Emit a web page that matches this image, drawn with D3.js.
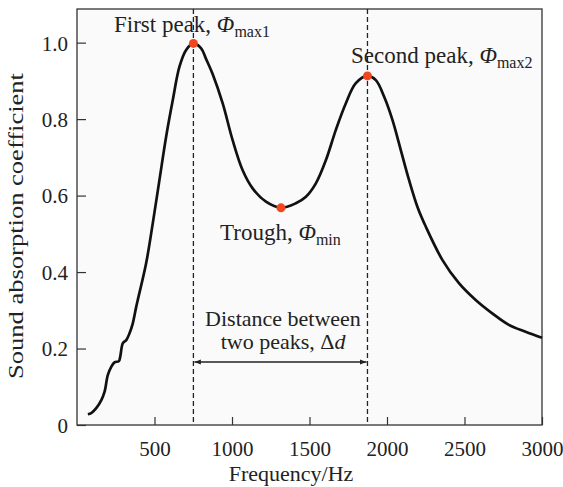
<!DOCTYPE html>
<html lang="en">
<head>
<meta charset="UTF-8">
<title>Sound absorption</title>
<script src="https://d3js.org/d3.v7.min.js"></script>
<style>
  body { margin: 0; background: #fff; }
  svg text { font-family: "Liberation Serif", "Times New Roman", serif; fill: #222; }
  .curve { fill: none; stroke: #111; stroke-width: 2.7px; }
  .guide { stroke: #222; stroke-width: 1.3px; stroke-dasharray: 5,3; }
</style>
</head>
<body>
<svg id="canvas" width="563" height="487"></svg>
<script>
// curve
var frequency = [70, 92, 124, 157, 178, 199, 221, 242, 270, 279, 296, 318, 339, 360, 382, 392,
  446, 489, 532, 575, 618, 661, 704, 751, 801, 833, 875, 940, 1004, 1068, 1133, 1219, 1316,
  1412, 1477, 1541, 1606, 1670, 1734, 1799, 1874, 1928, 1981, 2035, 2089, 2142, 2196, 2250,
  2357, 2464, 2572, 2679, 2786, 2894, 3000];
var absorption = [0.028, 0.031, 0.044, 0.065, 0.087, 0.131, 0.152, 0.164, 0.167, 0.179, 0.214,
  0.222, 0.240, 0.266, 0.309, 0.327, 0.423, 0.528, 0.641, 0.754, 0.850, 0.937, 0.981, 0.998,
  0.985, 0.957, 0.918, 0.841, 0.745, 0.667, 0.619, 0.584, 0.568, 0.580, 0.597, 0.632, 0.693,
  0.772, 0.841, 0.894, 0.913, 0.902, 0.859, 0.798, 0.719, 0.641, 0.571, 0.519, 0.432, 0.371,
  0.327, 0.292, 0.262, 0.244, 0.228];

var keyFreq = [751, 1316, 1874];
var keyValue = [0.998, 0.568, 0.913];

var xTicks = [500, 1000, 1500, 2000, 2500, 3000];
var yTicks = [0, 0.2, 0.4, 0.6, 0.8, 1.0];

var svg = d3.select('svg');
var plotL = 77, plotR = 542, plotT = 9, plotB = 425;

var x = d3.scaleLinear().domain([0, 3000]).range([plotL, plotR]);
var y = d3.scaleLinear().domain([0, 1.088]).range([plotB, plotT]);

svg.append("rect")
    .attr("x", plotL).attr("y", plotT)
    .attr("width", plotR - plotL).attr("height", plotB - plotT)
    .attr("fill", "#fafafa");

// axes, ticks pointing inward
var xAxis = svg.append("g")
    .attr("transform", "translate(0," + plotB + ")")
    .call(d3.axisTop(x).tickValues(xTicks).tickSize(8));
xAxis.selectAll("text").remove();
xAxis.selectAll(".tick").append("text")
    .attr("y", 31).attr("text-anchor", "middle")
    .style("font-size", "21px")
    .text(function(d){ return d; });

var yAxis = svg.append("g")
    .attr("transform", "translate(" + plotL + ",0)")
    .call(d3.axisRight(y).tickValues(yTicks).tickSize(9));
yAxis.selectAll("text").remove();
yAxis.selectAll(".tick").append("text")
    .attr("x", -9).attr("dy", "0.35em").attr("text-anchor", "end")
    .style("font-size", "21px")
    .text(function(d){ return d === 0 ? "0" : d3.format(".1f")(d); });

svg.selectAll(".domain").remove();
svg.selectAll(".tick line").attr("stroke", "#333").attr("stroke-width", 1.2);

svg.append("rect")
    .attr("x", plotL).attr("y", plotT)
    .attr("width", plotR - plotL).attr("height", plotB - plotT)
    .attr("fill", "none").attr("stroke", "#333").attr("stroke-width", 1.3);

// dashed guides at the two peaks
svg.selectAll(".guide")
    .data([keyFreq[0], keyFreq[2]])
    .enter().append("line")
    .attr("class", "guide")
    .attr("x1", function(d){ return x(d); }).attr("x2", function(d){ return x(d); })
    .attr("y1", plotT).attr("y2", plotB);

var line = d3.line()
    .x(function(d, i){ return x(frequency[i]); })
    .y(function(d){ return y(d); })
    .curve(d3.curveCatmullRom.alpha(0.5));

svg.append("path")
    .attr("class", "curve")
    .attr("d", line(absorption));

svg.selectAll(".key")
    .data(keyFreq)
    .enter().append("circle")
    .attr("class", "key")
    .attr("cx", function(d){ return x(d); })
    .attr("cy", function(d, i){ return y(keyValue[i]); })
    .attr("r", 4.5)
    .attr("fill", "#f2461f");

// arrow between peaks
var defs = svg.append("defs");
defs.append("marker").attr("id", "head")
    .attr("viewBox", "0 0 10 10").attr("refX", 10).attr("refY", 5)
    .attr("markerWidth", 7).attr("markerHeight", 5).attr("orient", "auto-start-reverse")
  .append("path").attr("d", "M0,1 L10,5 L0,9 Z").attr("fill", "#222");

svg.append("line")
    .attr("x1", x(keyFreq[0]) + 1).attr("x2", x(keyFreq[2]) - 1)
    .attr("y1", 362).attr("y2", 362)
    .attr("stroke", "#222").attr("stroke-width", 1.3)
    .attr("marker-start", "url(#head)").attr("marker-end", "url(#head)");

function label(px, py, anchor, main, sym, sub) {
    var t = svg.append("text")
        .attr("x", px).attr("y", py)
        .attr("text-anchor", anchor)
        .style("font-size", "23px");
    t.append("tspan").text(main);
    t.append("tspan").style("font-style", "italic").text(sym);
    if (sub) {
        t.append("tspan").attr("dy", 5).style("font-size", "16px").text(sub);
    }
    return t;
}

label(114, 32, "start", "First peak, ", "\u03A6", "max1");
label(351, 63, "start", "Second peak, ", "\u03A6", "max2");
label(220, 240, "start", "Trough, ", "\u03A6", "min");

svg.append("text")
    .attr("x", 283).attr("y", 326).attr("text-anchor", "middle")
    .style("font-size", "22px")
    .text("Distance between");
var t2 = svg.append("text")
    .attr("x", 283).attr("y", 349).attr("text-anchor", "middle")
    .style("font-size", "22px");
t2.append("tspan").text("two peaks, \u0394");
t2.append("tspan").style("font-style", "italic").text("d");

svg.append("text")
    .attr("x", 291).attr("y", 481).attr("text-anchor", "middle")
    .style("font-size", "22px")
    .text("Frequency/Hz");

svg.append("text")
    .attr("transform", "translate(23," + 226 + ") rotate(-90)")
    .attr("text-anchor", "middle")
    .attr("textLength", 306)
    .attr("lengthAdjust", "spacingAndGlyphs")
    .style("font-size", "21px")
    .text("Sound absorption coefficient");
</script>
</body>
</html>
